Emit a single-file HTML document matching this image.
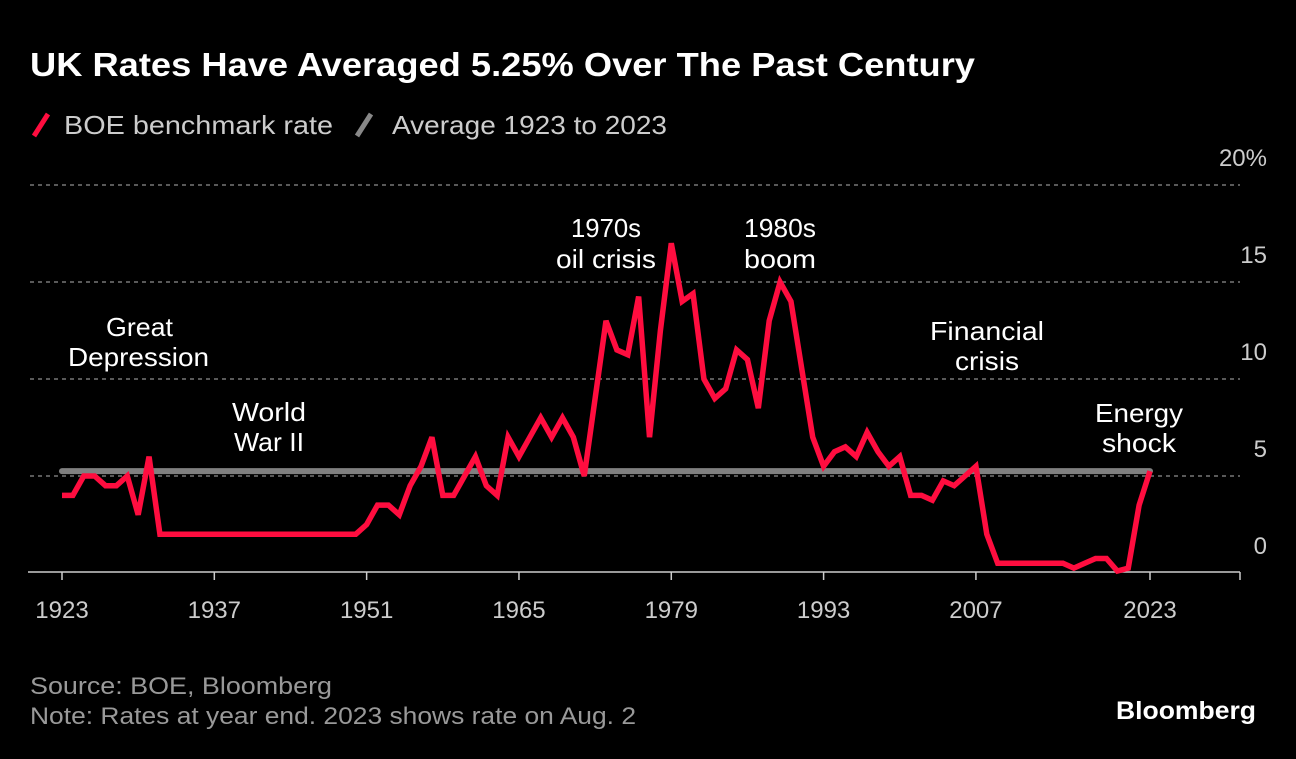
<!DOCTYPE html>
<html><head><meta charset="utf-8"><style>
body{margin:0;background:#000;width:1296px;height:754px;overflow:hidden;font-family:"Liberation Sans",sans-serif;}
</style></head><body>
<svg width="1296" height="754" xmlns="http://www.w3.org/2000/svg">
<rect width="1296" height="754" fill="#000"/>
<text x="30" y="76" fill="#fff" font-size="33" font-weight="bold" textLength="945" lengthAdjust="spacingAndGlyphs">UK Rates Have Averaged 5.25% Over The Past Century</text>
<g>
<line x1="34" y1="136" x2="48" y2="114" stroke="#ff0d3f" stroke-width="5"/>
<text x="64" y="134" fill="#ccc" font-size="26" textLength="269" lengthAdjust="spacingAndGlyphs">BOE benchmark rate</text>
<line x1="357" y1="136" x2="371" y2="114" stroke="#888" stroke-width="5"/>
<text x="392" y="134" fill="#ccc" font-size="26" textLength="275" lengthAdjust="spacingAndGlyphs">Average 1923 to 2023</text>
</g>
<g id="grid"></g>
<g id="axes"></g>
<g id="annotations" font-size="26" fill="#fff">
<text><tspan x="106" y="336" textLength="67" lengthAdjust="spacingAndGlyphs">Great</tspan><tspan x="68" y="366" textLength="141" lengthAdjust="spacingAndGlyphs">Depression</tspan></text>
<text><tspan x="232" y="421" textLength="74" lengthAdjust="spacingAndGlyphs">World</tspan><tspan x="234" y="451" textLength="70" lengthAdjust="spacingAndGlyphs">War II</tspan></text>
<text><tspan x="571" y="237" textLength="70" lengthAdjust="spacingAndGlyphs">1970s</tspan><tspan x="556" y="268" textLength="100" lengthAdjust="spacingAndGlyphs">oil crisis</tspan></text>
<text><tspan x="744" y="237" textLength="72" lengthAdjust="spacingAndGlyphs">1980s</tspan><tspan x="744" y="268" textLength="72" lengthAdjust="spacingAndGlyphs">boom</tspan></text>
<text><tspan x="930" y="340" textLength="114" lengthAdjust="spacingAndGlyphs">Financial</tspan><tspan x="955" y="370" textLength="64" lengthAdjust="spacingAndGlyphs">crisis</tspan></text>
<text><tspan x="1095" y="422" textLength="88" lengthAdjust="spacingAndGlyphs">Energy</tspan><tspan x="1102" y="452" textLength="74" lengthAdjust="spacingAndGlyphs">shock</tspan></text>
</g>
<g id="series"></g>
<text x="30" y="694" fill="#999" font-size="24" textLength="302" lengthAdjust="spacingAndGlyphs">Source: BOE, Bloomberg</text>
<text x="30" y="724" fill="#999" font-size="24" textLength="606" lengthAdjust="spacingAndGlyphs">Note: Rates at year end. 2023 shows rate on Aug. 2</text>
<text x="1116" y="719" fill="#fff" font-size="25" font-weight="bold" textLength="140" lengthAdjust="spacingAndGlyphs">Bloomberg</text>
</svg>
<script>
const years=[1923,1924,1925,1926,1927,1928,1929,1930,1931,1932,1933,1934,1935,1936,1937,1938,1939,1940,1941,1942,1943,1944,1945,1946,1947,1948,1949,1950,1951,1952,1953,1954,1955,1956,1957,1958,1959,1960,1961,1962,1963,1964,1965,1966,1967,1968,1969,1970,1971,1972,1973,1974,1975,1976,1977,1978,1979,1980,1981,1982,1983,1984,1985,1986,1987,1988,1989,1990,1991,1992,1993,1994,1995,1996,1997,1998,1999,2000,2001,2002,2003,2004,2005,2006,2007,2008,2009,2010,2011,2012,2013,2014,2015,2016,2017,2018,2019,2020,2021,2022,2023];
const rates=[4,4,5,5,4.5,4.5,5,3,6,2,2,2,2,2,2,2,2,2,2,2,2,2,2,2,2,2,2,2,2.5,3.5,3.5,3,4.5,5.5,7,4,4,5,6,4.5,4,7,6,7,8,7,8,7,5,9,13,11.5,11.25,14.25,7,12.5,17,14,14.4,10,9,9.5,11.5,11,8.5,13,15,14,10.5,7,5.5,6.25,6.5,6,7.25,6.25,5.5,6,4,4,3.75,4.75,4.5,5,5.5,2,0.5,0.5,0.5,0.5,0.5,0.5,0.5,0.25,0.5,0.75,0.75,0.1,0.25,3.5,5.25];
const average=[5.25];
const xTicks=[1923,1937,1951,1965,1979,1993,2007,2023];
const yTicks=[0,5,10,15,20];
const yTickLabels=["0","5","10","15","20%"];
const NS="http://www.w3.org/2000/svg";
function x(yr){return 62+(yr-1923)*10.88;}
function y(v){return 573-v*19.4;}
function mk(t,a,p){const e=document.createElementNS(NS,t);for(const k in a)e.setAttribute(k,a[k]);p.appendChild(e);return e;}
const grid=document.getElementById('grid'),axes=document.getElementById('axes'),series=document.getElementById('series');
yTicks.forEach((v,i)=>{
 if(v>0){const g=mk('line',{x1:30,x2:1240,y1:y(v),y2:y(v),stroke:'#777','stroke-width':1.5,'stroke-dasharray':'4,4'},grid);
 
 }
 const t=mk('text',{x:1267,y:y(v)-19,fill:'#ccc','font-size':24,'text-anchor':'end'},axes);
 t.textContent=yTickLabels[i];
 
 
});
const ax=mk('line',{x1:28,x2:1240,y1:572,y2:572,stroke:'#ccc','stroke-width':1.5},axes);


xTicks.map(x).concat([1240]).forEach(px=>{mk('line',{x1:px,x2:px,y1:572,y2:580,stroke:'#ccc','stroke-width':1.5},axes);});
xTicks.forEach(yr=>{
 const t=mk('text',{x:x(yr),y:618,fill:'#ccc','font-size':24,'text-anchor':'middle'},axes);
 t.textContent=yr;
 
 
});
const avg=mk('line',{x1:x(years[0]),x2:x(years[years.length-1]),y1:y(average[0]),y2:y(average[0]),stroke:'#808080','stroke-width':6,'stroke-linecap':'round'},series);


const pl=mk('polyline',{points:years.map((yr,i)=>x(yr)+','+y(rates[i])).join(' '),fill:'none',stroke:'#ff0d3f','stroke-width':5.5,'stroke-linejoin':'miter','stroke-miterlimit':3},series);


</script>
</body></html>
